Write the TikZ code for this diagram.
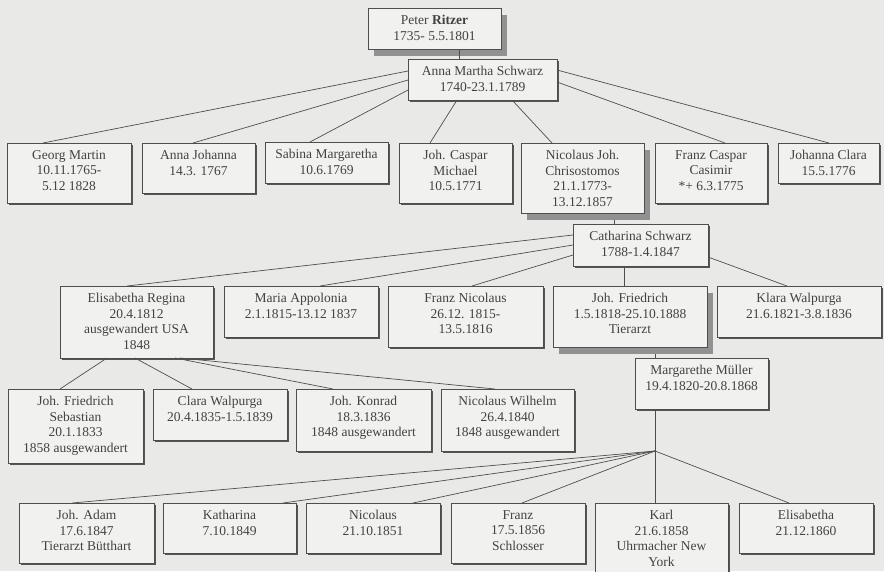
\documentclass[tikz,border=0pt]{standalone}
\usepackage{fontspec}
\setmainfont{Liberation Serif}
\usetikzlibrary{calc,shadows}
\definecolor{bg}{RGB}{233,233,231}
\definecolor{boxfill}{RGB}{241,241,240}
\definecolor{ink}{RGB}{66,66,66}
\definecolor{edge}{RGB}{78,78,78}
\definecolor{shade}{RGB}{85,85,85}
\definecolor{bigshade}{RGB}{145,145,145}
\tikzset{
  fam/.style={draw=edge, fill=boxfill, line width=0.8pt, inner sep=0pt, outer sep=0pt},
  thinshadow/.style={drop shadow={shadow xshift=1.8pt, shadow yshift=-1.8pt, fill=shade, opacity=1}},
  thickshadow/.style={drop shadow={shadow xshift=6pt, shadow yshift=-6.5pt, fill=bigshade, opacity=1}},
  famtext/.style={anchor=north, align=center, inner sep=0pt, text=ink, font=\fontsize{13.5}{15.5}\selectfont},
  conn/.style={draw=edge, line width=0.7pt},
}
\newcommand\fambox[7]{%
  \node[fam, #6, minimum width={(#4-#2)*1pt}, minimum height={(#5-#3)*1pt},
    label={[famtext, name=#1-t, yshift=-7pt]north:{#7}}] (#1) at ({(#2+#4)/2},{(#3+#5)/2}) {};}
\begin{document}
\begin{tikzpicture}[x=1pt, y=-1pt]
\useasboundingbox (0,0) rectangle (884,571);
\clip (0,0) rectangle (884,571);
\fill[bg] (0,0) rectangle (884,571);

% generation 1
\fambox{peter}{368}{8}{501}{49}{thickshadow}{Peter \textbf{Ritzer}\\1735- 5.5.1801}
\fambox{anna}{408}{59}{557}{100}{thinshadow}{Anna Martha Schwarz\\1740-23.1.1789}

% generation 2
\fambox{georg}{7}{143}{131}{203}{thinshadow}{Georg Martin\\10.11.1765-\\5.12 1828}
\fambox{annaj}{142}{143}{255}{193}{thinshadow}{Anna Johanna\\14.3. 1767}
\fambox{sabina}{265}{142}{388}{183}{thinshadow}{Sabina Margaretha\\10.6.1769}
\fambox{caspar}{399}{143}{512}{203}{thinshadow}{Joh. Caspar\\Michael\\10.5.1771}
\fambox{nicj}{521}{143}{644}{213}{thickshadow}{Nicolaus Joh.\\Chrisostomos\\21.1.1773-\\13.12.1857}
\fambox{franzc}{655}{143}{767}{203}{thinshadow}{Franz Caspar\\Casimir\\*+ 6.3.1775}
\fambox{johc}{778}{143}{879}{183}{thinshadow}{Johanna Clara\\15.5.1776}

\fambox{cath}{573}{224}{708}{266}{thinshadow}{Catharina Schwarz\\1788-1.4.1847}

% generation 3
\fambox{elis}{60}{286}{213}{358}{thinshadow}{Elisabetha Regina\\20.4.1812\\ausgewandert USA\\1848}
\fambox{maria}{224}{286}{378}{337}{thinshadow}{Maria Appolonia\\2.1.1815-13.12 1837}
\fambox{franzn}{388}{286}{543}{347}{thinshadow}{Franz Nicolaus\\26.12. 1815-\\13.5.1816}
\fambox{johf}{553}{286}{707}{347}{thickshadow}{Joh. Friedrich\\1.5.1818-25.10.1888\\Tierarzt}
\fambox{klara}{717}{286}{881}{337}{thinshadow}{Klara Walpurga\\21.6.1821-3.8.1836}

\fambox{marg}{635}{358}{768}{409}{thinshadow}{Margarethe Müller\\19.4.1820-20.8.1868}

% generation 4 (Elisabetha Regina)
\fambox{jfs}{8}{389}{143}{463}{thinshadow}{Joh. Friedrich\\Sebastian\\20.1.1833\\1858 ausgewandert}
\fambox{clara}{153}{389}{287}{440}{thinshadow}{Clara Walpurga\\20.4.1835-1.5.1839}
\fambox{konrad}{296}{389}{431}{451}{thinshadow}{Joh. Konrad\\18.3.1836\\1848 ausgewandert}
\fambox{nicw}{441}{389}{574}{451}{thinshadow}{Nicolaus Wilhelm\\26.4.1840\\1848 ausgewandert}

% generation 4 (Margarethe)
\fambox{adam}{19}{503}{154}{563}{thinshadow}{Joh. Adam\\17.6.1847\\Tierarzt Bütthart}
\fambox{kath}{163}{503}{296}{553}{thinshadow}{Katharina\\7.10.1849}
\fambox{nico}{306}{503}{440}{553}{thinshadow}{Nicolaus\\21.10.1851}
\fambox{franz}{451}{503}{585}{563}{thinshadow}{Franz\\17.5.1856\\Schlosser}
\fambox{karl}{595}{503}{728}{585}{thinshadow}{Karl\\21.6.1858\\Uhrmacher New\\York}
\fambox{elisa}{739}{503}{873}{553}{thinshadow}{Elisabetha\\21.12.1860}

\coordinate (hub) at ($(marg.south west)+(20,42)$);

% connectors
\draw[conn] ($(peter.south west)+(91,0)$) -- ($(anna.north west)+(51,0)$);

\draw[conn] ($(anna.north west)+(0,12)$) -- ($(georg.north west)+(36,0)$);
\draw[conn] ($(anna.north west)+(0,21)$) -- ($(annaj.north west)+(51,0)$);
\draw[conn] ($(anna.north west)+(0,31)$) -- ($(sabina.north west)+(45,0)$);
\draw[conn] ($(anna.south west)+(49,0)$) -- ($(caspar.north west)+(31,0)$);
\draw[conn] ($(anna.south west)+(104,0)$) -- ($(nicj.north west)+(31,0)$);
\draw[conn] ($(anna.north east)+(0,23)$) -- ($(franzc.north west)+(70,0)$);
\draw[conn] ($(anna.north east)+(0,11)$) -- ($(johc.north west)+(51,0)$);

\draw[conn] ($(nicj.south west)+(93,6.5)$) -- ($(cath.north west)+(41,0)$);

\draw[conn] ($(cath.north west)+(0,11)$) -- ($(elis.north west)+(67,0)$);
\draw[conn] ($(cath.north west)+(0,21)$) -- ($(maria.north west)+(96,0)$);
\draw[conn] ($(cath.north west)+(0,31)$) -- ($(franzn.north west)+(84,0)$);
\draw[conn] ($(cath.south west)+(51,0)$) -- ($(johf.north west)+(71,0)$);
\draw[conn] ($(cath.north east)+(0,33)$) -- ($(klara.north west)+(70,0)$);

\draw[conn] ($(johf.south west)+(102,6.5)$) -- ($(marg.north west)+(20,0)$);

\draw[conn] ($(elis.south west)+(47,0)$) -- ($(jfs.north west)+(52,0)$);
\draw[conn] ($(elis.south west)+(75,0)$) -- ($(clara.north west)+(39,0)$);
\draw[conn] ($(elis.south west)+(115,0)$) -- ($(konrad.north west)+(37,0)$);
\draw[conn] ($(elis.south west)+(120,0)$) -- ($(nicw.north west)+(54,0)$);

\draw[conn] ($(marg.south west)+(20,0)$) -- (hub);
\draw[conn] (hub) -- ($(adam.north west)+(53,0)$);
\draw[conn] (hub) -- ($(kath.north west)+(120,0)$);
\draw[conn] (hub) -- ($(nico.north west)+(107,0)$);
\draw[conn] (hub) -- ($(franz.north west)+(71,0)$);
\draw[conn] (hub) -- ($(karl.north west)+(60,0)$);
\draw[conn] (hub) -- ($(elisa.north west)+(50,0)$);
\end{tikzpicture}
\end{document}
